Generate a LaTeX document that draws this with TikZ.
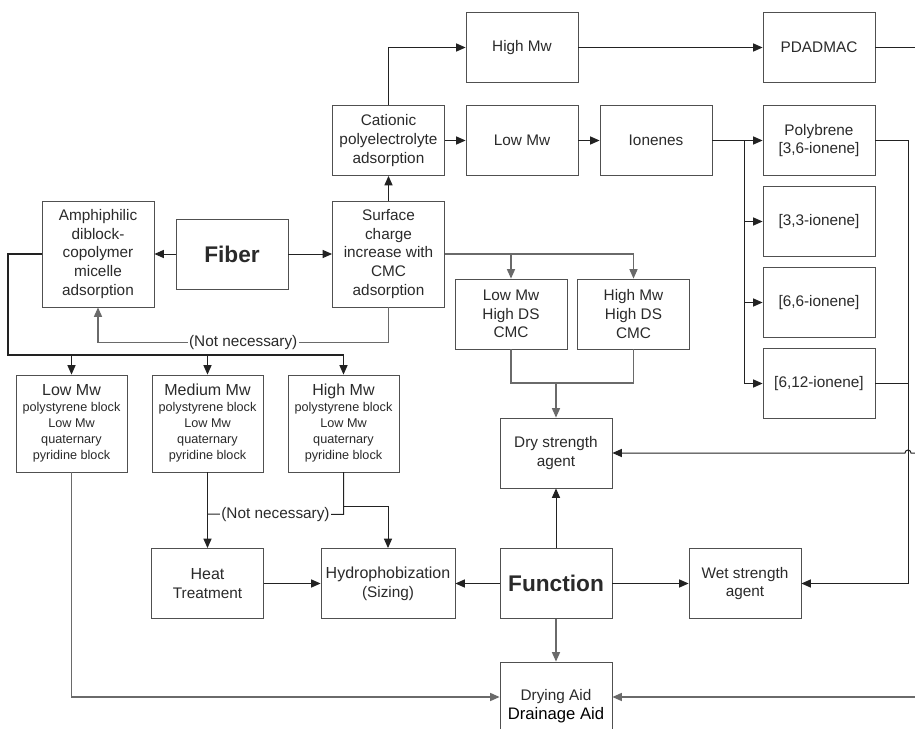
\documentclass[tikz,border=0pt]{standalone}
\usepackage{fontspec}
\setmainfont{Liberation Sans}
\usepackage{tikz}
\usetikzlibrary{arrows.meta,positioning,calc}

\definecolor{boxedge}{HTML}{505050}
\definecolor{txt}{HTML}{2A2A2A}
\definecolor{lndark}{HTML}{222222}
\definecolor{lngray}{HTML}{6A6A6A}

\begin{document}
\begin{tikzpicture}[
    x=0.75pt, y=-0.75pt,
    fc_box/.style={draw=boxedge, line width=0.65pt, rectangle, minimum width=84pt, minimum height=52.5pt, inner sep=1pt, align=center, text=txt, font=\fontsize{11.5}{14}\selectfont},
    tall_box/.style={fc_box, minimum height=79.5pt},
    cop_box/.style={fc_box, minimum width=83.25pt, minimum height=72.75pt, font=\fontsize{9.5}{12}\selectfont},
    big_txt/.style={font=\fontsize{17}{20}\selectfont\bfseries},
    nn_lbl/.style={fill=white, inner sep=1pt, text=txt, font=\fontsize{11.5}{14}\selectfont},
    dk_line/.style={draw=lndark, line width=0.75pt},
    gr_line/.style={draw=lngray, line width=0.9pt},
    to_arr/.style={-{Triangle[length=7pt,width=6pt]}}
]
\useasboundingbox (0,0) rectangle (915,729);
\clip (0,0) rectangle (915,729);
\fill[white] (0,0) rectangle (915,729);

\node[tall_box] (amph) at (98,254) {Amphiphilic\\diblock-\\copolymer\\micelle\\adsorption};
\node[fc_box, big_txt] (fiber) at (232,254) {Fiber};
\node[tall_box] (surf) at (388.5,254) {Surface\\charge\\increase with\\CMC\\adsorption};

\node[fc_box] (cation) at (388.5,140.5) {Cationic\\polyelectrolyte\\adsorption};
\node[fc_box] (hiMw) at (522,47.5) {High Mw};
\node[fc_box] (loMw) at (522,140.5) {Low Mw};
\node[fc_box] (ionen) at (656,140.5) {Ionenes};
\node[fc_box] (pdad) at (819,47.5) {PDADMAC};
\node[fc_box] (polyb) at (819,140.5) {Polybrene\\{[3,6-ionene]}};
\node[fc_box] (ion33) at (819,221.5) {{[3,3-ionene]}};
\node[fc_box] (ion66) at (819,302.5) {{[6,6-ionene]}};
\node[fc_box] (ion612) at (819,383.5) {{[6,12-ionene]}};

\node[fc_box] (cmcLo) at (511,314) {Low Mw\\High DS\\CMC};
\node[fc_box] (cmcHi) at (633.5,314) {High Mw\\High DS\\CMC};

\node[cop_box] (cop1) at (71.5,423.5) {{\fontsize{12}{14}\selectfont Low Mw}\\polystyrene block\\Low Mw\\quaternary\\pyridine block};
\node[cop_box] (cop2) at (207.5,423.5) {{\fontsize{12}{14}\selectfont Medium Mw}\\polystyrene block\\Low Mw\\quaternary\\pyridine block};
\node[cop_box] (cop3) at (343.5,423.5) {{\fontsize{12}{14}\selectfont High Mw}\\polystyrene block\\Low Mw\\quaternary\\pyridine block};

\node[fc_box] (dry) at (556,453) {Dry strength\\agent};
\node[fc_box] (heat) at (207.5,583.5) {\fontsize{12}{14}\selectfont Heat\\Treatment};
\node[fc_box, minimum width=100.5pt] (hydro) at (388,583.5) {\fontsize{12}{14}\selectfont Hydrophobization\\(Sizing)};
\node[fc_box, big_txt] (func) at (556,583.5) {Function};
\node[fc_box] (wet) at (745,583.5) {Wet strength\\agent};
\node[fc_box, minimum height=66pt] (drain) at (556,706) {Drying Aid\\{\fontsize{12.5}{14}\selectfont\color{black}Drainage Aid}};

\coordinate (eTop) at (915,47.5);
\coordinate (eDry) at (915,453);
\coordinate (eDrain) at (915,697);
\coordinate (split) at (744,140.5);
\coordinate (rBus) at (908,140.5);
\coordinate (busL) at (8,355);
\coordinate (cmcJ) at (556,383);
\coordinate (nnL) at (207.5,514);

\draw[dk_line,to_arr] (fiber) -- (amph);
\draw[dk_line,to_arr] (fiber) -- (surf);
\draw[dk_line,to_arr] (surf) -- (cation);
\draw[dk_line,to_arr] (cation.north) |- (hiMw);
\draw[dk_line,to_arr] (cation) -- (loMw);
\draw[dk_line,to_arr] (loMw) -- (ionen);
\draw[dk_line,to_arr] (hiMw) -- (pdad);
\draw[dk_line] (pdad) -- (eTop);
\draw[dk_line,to_arr] (ionen) -- (polyb);
\draw[dk_line] (split) -- (split |- ion612);
\foreach \n in {ion33,ion66,ion612}
    \draw[dk_line,to_arr] (split |- \n) -- (\n);
\draw[dk_line,to_arr] (polyb.east) -- (rBus) |- (wet);
\draw[dk_line] (ion612.east) -- (ion612.east -| rBus);
\draw[dk_line,to_arr] (eDry) -- ++(-4,0) arc[start angle=0, end angle=180, radius=2.25pt] -- (dry);
\draw[gr_line,to_arr] (eDrain) -- (drain.east |- eDrain);

\draw[gr_line,to_arr] (surf.east) -| (cmcHi);
\draw[gr_line,to_arr] (surf.east -| cmcLo) -- (cmcLo);
\draw[gr_line] (cmcLo) |- (cmcJ) -| (cmcHi);
\draw[gr_line,to_arr] (cmcJ) -- (dry);

\draw[gr_line,to_arr] (surf.south) -- ++(0,35) -| node[nn_lbl, pos=0.25] {(Not necessary)} (amph.south);

\draw[dk_line, line width=1.1pt] (amph.west) -- (amph.west -| busL) -- (busL) -- (cop3.north |- busL);
\foreach \n in {cop1,cop2,cop3}
    \draw[dk_line,to_arr] (\n.north |- busL) -- (\n);

\draw[dk_line,to_arr] (cop2) -- (heat);
\draw[dk_line] (cop3.south) -- ++(0,42) -- node[nn_lbl] {(Not necessary)} (nnL);
\draw[dk_line,to_arr] (cop3.south) -- ++(0,34) -| (hydro);
\draw[gr_line,to_arr] (cop1) |- (drain.west |- eDrain);

\draw[dk_line,to_arr] (heat) -- (hydro);
\draw[dk_line,to_arr] (func) -- (dry);
\draw[dk_line,to_arr] (func) -- (hydro);
\draw[dk_line,to_arr] (func) -- (wet);
\draw[gr_line,to_arr] (func) -- (drain);

\end{tikzpicture}
\end{document}
